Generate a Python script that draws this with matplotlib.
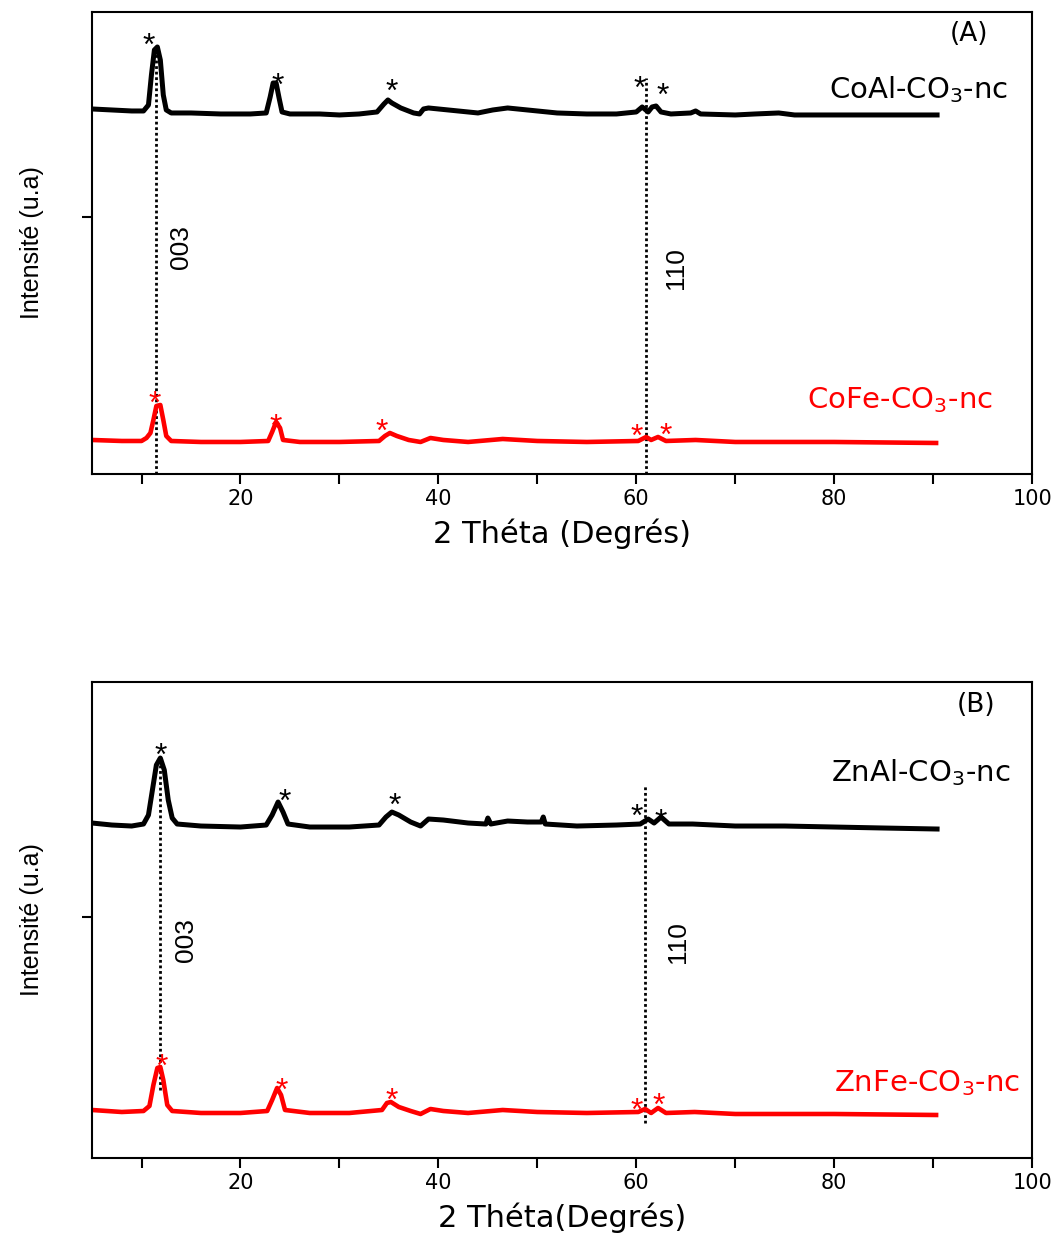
import numpy as np
import matplotlib
matplotlib.use("Agg")
import matplotlib.pyplot as plt
from matplotlib.ticker import MultipleLocator

plt.rcParams['font.family'] = ['DejaVu Sans']
plt.rcParams['mathtext.fontset'] = 'dejavusans'

# --- panel (A) : CoAl-CO3-nc (noir) ---
coal_x = [5.0, 7.0, 9.0, 10.2, 10.7, 11.0, 11.3, 11.6, 11.9, 12.2, 12.5, 13.0, 15, 18, 21,
          22.6, 23.0, 23.3, 23.6, 23.9, 24.2, 25, 28, 30, 32, 33.8, 34.5, 34.9, 35.3, 36.2,
          37.5, 38.1, 38.5, 39.0, 40, 42, 44, 45.5, 47, 49, 52, 55, 58, 60.0, 60.6, 61.2,
          61.6, 62.0, 62.5, 63.5, 65.5, 66.0, 66.5, 70, 72, 74.4, 76, 80, 85, 90.4]
coal_y = [1825, 1820, 1815, 1815, 1845, 1995, 2120, 2135, 2070, 1895, 1820, 1805, 1805, 1800, 1800,
          1805, 1885, 1955, 1955, 1880, 1810, 1800, 1800, 1795, 1800, 1810, 1850, 1870, 1855, 1830,
          1805, 1800, 1825, 1830, 1825, 1815, 1805, 1820, 1830, 1820, 1805, 1800, 1800, 1810, 1835, 1810,
          1835, 1840, 1810, 1800, 1805, 1815, 1800, 1795, 1800, 1805, 1795, 1795, 1795, 1795]

# --- panel (A) : CoFe-CO3-nc (rouge) ---
cofe_x = [5.0, 8, 10.0, 10.5, 10.9, 11.2, 11.5, 11.9, 12.2, 12.5, 13.0, 16, 20, 22.8, 23.2,
          23.6, 24.0, 24.3, 26, 30, 34.0, 34.6, 35.1, 35.8, 37, 38.2, 39.2, 40.5, 43, 46.5,
          50, 55, 60.2, 61.0, 61.5, 62.2, 63.0, 66.0, 70, 80, 90.3]
cofe_y = [170, 165, 165, 180, 205, 270, 340, 345, 270, 190, 165, 160, 160, 165, 210,
          260, 230, 170, 160, 160, 165, 190, 205, 190, 170, 160, 180, 170, 160, 175,
          165, 160, 165, 185, 170, 185, 165, 170, 160, 160, 155]

# --- panel (B) : ZnAl-CO3-nc (noir) ---
znal_x = [5.0, 7, 9, 10.2, 10.7, 11.1, 11.5, 11.9, 12.3, 12.7, 13.1, 13.6, 16, 20, 22.6,
          23.2, 23.8, 24.3, 24.8, 27, 31, 34.0, 34.7, 35.3, 36.0, 37.2, 38.2, 39.0, 40.5, 43,
          44.8, 45.0, 45.3, 47, 49, 50.4, 50.6, 50.8, 54, 58, 60.4, 61.2, 61.8, 62.5, 63.3,
          65.7, 70, 75, 80, 85, 90.4]
znal_y = [1675, 1665, 1660, 1670, 1715, 1840, 1965, 2000, 1940, 1790, 1700, 1670, 1660, 1655, 1665,
          1715, 1780, 1730, 1670, 1655, 1655, 1665, 1705, 1730, 1715, 1680, 1660, 1695, 1690, 1675,
          1670, 1700, 1670, 1685, 1680, 1680, 1705, 1670, 1660, 1665, 1670, 1695, 1675, 1705, 1670,
          1670, 1660, 1660, 1655, 1650, 1645]

# --- panel (B) : ZnFe-CO3-nc (rouge) ---
znfe_x = [5.0, 8, 10.2, 10.8, 11.2, 11.6, 11.9, 12.2, 12.6, 13.1, 16, 20, 22.7, 23.2, 23.7,
          24.1, 24.5, 27, 31, 34.3, 34.8, 35.2, 36.0, 37.2, 38.2, 39.2, 40.5, 43, 46.5, 50,
          55, 60.2, 60.9, 61.5, 62.2, 63.0, 65.9, 70, 80, 90.3]
znfe_y = [240, 230, 235, 260, 365, 450, 455, 390, 265, 235, 225, 225, 235, 290, 350,
          315, 240, 225, 225, 240, 275, 280, 255, 235, 220, 245, 235, 225, 240, 230,
          225, 230, 245, 225, 250, 225, 230, 220, 220, 215]

# pics marqués (*)
star_a_black = [(10.75, 2185), (23.8, 1985), (35.3, 1955), (60.3, 1970), (62.7, 1935)]
star_a_red = [(11.3, 395), (23.6, 280), (34.3, 255), (60.0, 230), (63.0, 235)]
star_b_black = [(11.9, 2055), (24.5, 1825), (35.6, 1805), (60.0, 1750), (62.5, 1725)]
star_b_red = [(12.06, 500), (24.2, 380), (35.3, 330), (60.0, 280), (62.3, 305)]

# raies (003) et (110): position, ymin, ymax
lines_a = [(11.5, 0, 2135), (61.0, 0, 1980)]
lines_b = [(11.9, 340, 2000), (60.9, 175, 1865)]

fig = plt.figure(figsize=(10.63, 12.34), dpi=100)
axA = fig.add_axes([0.0866, 0.6159, 0.8843, 0.3744])
axB = fig.add_axes([0.0866, 0.0616, 0.8843, 0.3857])

NARROW = ['Liberation Sans']


def draw_stars(ax, pts, color):
    for x, y in pts:
        ax.annotate('*', (x, y), xytext=(0, -13), textcoords='offset points',
                    ha='center', va='baseline', fontsize=23, color=color,
                    family=['Liberation Sans'])


def setup(ax, ylim, ytick, xlabel):
    ax.set_xlim(5, 100)
    ax.set_ylim(*ylim)
    ax.xaxis.set_major_locator(MultipleLocator(20))
    ax.xaxis.set_minor_locator(MultipleLocator(10))
    ax.set_yticks([ytick])
    ax.set_yticklabels([])
    ax.tick_params(axis='both', which='both', direction='out', length=7, width=1.5,
                   top=False, right=False, labelsize=15)
    ax.tick_params(axis='x', pad=4)
    for s in ax.spines.values():
        s.set_linewidth(1.5)
    ax.set_xlabel(xlabel, fontsize=22, labelpad=7)
    ax.set_ylabel('Intensité (u.a)', fontsize=18, labelpad=24, family=NARROW)


# ---------- (A) ----------
axA.plot(coal_x, coal_y, color='black', lw=3.6, solid_joinstyle='round')
axA.plot(cofe_x, cofe_y, color='red', lw=3.3, solid_joinstyle='round')
for x, y0, y1 in lines_a:
    axA.plot([x, x], [y0, y1], color='black', lw=2, ls=(0, (1, 1)), zorder=1)
draw_stars(axA, star_a_black, 'black')
draw_stars(axA, star_a_red, 'red')
axA.text(14.0, 1135, '003', rotation=90, ha='center', va='center', fontsize=19, family=NARROW)
axA.text(64.0, 1030, '110', rotation=90, ha='center', va='center', fontsize=19, family=NARROW)
axA.text(0.953, 0.952, '(A)', transform=axA.transAxes, ha='right', va='center', fontsize=19)
axA.text(0.9745, 0.831, 'CoAl-CO$_3$-nc', transform=axA.transAxes, ha='right', va='center', fontsize=21)
axA.text(0.9585, 0.160, 'CoFe-CO$_3$-nc', transform=axA.transAxes, ha='right', va='center',
         fontsize=21, color='red')
setup(axA, (0, 2310), 1285, '2 Théta (Degrés)')

# ---------- (B) ----------
axB.plot(znal_x, znal_y, color='black', lw=3.6, solid_joinstyle='round')
axB.plot(znfe_x, znfe_y, color='red', lw=3.3, solid_joinstyle='round')
for x, y0, y1 in lines_b:
    axB.plot([x, x], [y0, y1], color='black', lw=2, ls=(0, (1, 1)), zorder=1)
draw_stars(axB, star_b_black, 'black')
draw_stars(axB, star_b_red, 'red')
axB.text(14.5, 1090, '003', rotation=90, ha='center', va='center', fontsize=19, family=NARROW)
axB.text(64.2, 1080, '110', rotation=90, ha='center', va='center', fontsize=19, family=NARROW)
axB.text(0.9606, 0.952, '(B)', transform=axB.transAxes, ha='right', va='center', fontsize=19)
axB.text(0.9766, 0.809, 'ZnAl-CO$_3$-nc', transform=axB.transAxes, ha='right', va='center', fontsize=21)
axB.text(0.987, 0.158, 'ZnFe-CO$_3$-nc', transform=axB.transAxes, ha='right', va='center',
         fontsize=21, color='red')
setup(axB, (0, 2380), 1205, '2 Théta(Degrés)')

fig.savefig('out.png', dpi=100)
